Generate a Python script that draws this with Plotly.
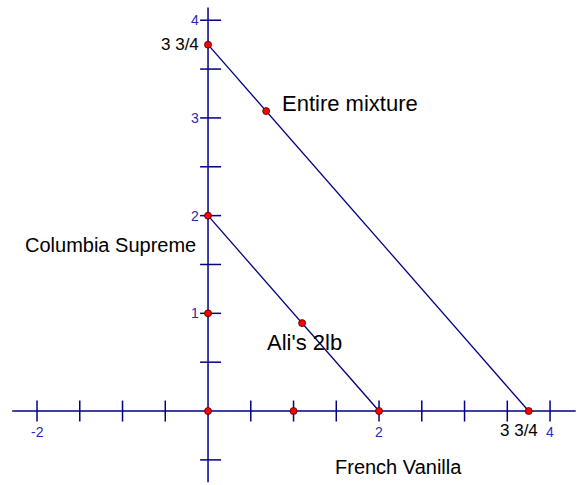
import plotly.graph_objects as go

# --- data ---
x_ticks = [-2, -1.5, -1, -0.5, 0.5, 1, 1.5, 2, 2.5, 3, 3.5, 4]
y_ticks = [-0.5, 0.5, 1, 1.5, 2, 2.5, 3, 3.5, 4]
x_tick_labels = {-2: "-2", 2: "2", 4: "4"}
y_tick_labels = {1: "1", 2: "2", 3: "3", 4: "4"}

entire_x = [0, 3.75]
entire_y = [3.75, 0]
alis_x = [0, 2]
alis_y = [2, 0]

pt_x = [0, 0, 0, 0, 1, 2, 3.75, 1.1, 0.68]
pt_y = [3.75, 2, 1, 0, 0, 0, 0, 0.9, 3.07]

AXIS = "#000080"
TICKTXT = "#2b2ba8"
FONT = "Liberation Sans, Arial, sans-serif"

fig = go.Figure()

# axes
fig.add_trace(go.Scatter(x=[-2.29, 4.3], y=[0, 0], mode="lines",
                         line=dict(color=AXIS, width=1.5), hoverinfo="skip"))
fig.add_trace(go.Scatter(x=[0, 0], y=[-0.73, 4.13], mode="lines",
                         line=dict(color=AXIS, width=1.5), hoverinfo="skip"))

# tick marks
fig.add_trace(go.Scatter(x=x_ticks, y=[0] * len(x_ticks), mode="markers",
                         marker=dict(symbol="line-ns", size=15,
                                     line=dict(color=AXIS, width=1.5)),
                         hoverinfo="skip"))
fig.add_trace(go.Scatter(x=[0.03] * len(y_ticks), y=y_ticks, mode="markers",
                         marker=dict(symbol="line-ew", size=15,
                                     line=dict(color=AXIS, width=1.5)),
                         hoverinfo="skip"))

# mixture lines
fig.add_trace(go.Scatter(x=entire_x, y=entire_y, mode="lines",
                         line=dict(color=AXIS, width=1.3), hoverinfo="skip"))
fig.add_trace(go.Scatter(x=alis_x, y=alis_y, mode="lines",
                         line=dict(color=AXIS, width=1.3), hoverinfo="skip"))

# points
fig.add_trace(go.Scatter(x=pt_x, y=pt_y, mode="markers",
                         marker=dict(color="red", size=7,
                                     line=dict(color="#400000", width=0.8))))

# tick labels
for v, t in x_tick_labels.items():
    fig.add_annotation(x=v, y=-0.215, text=t, showarrow=False,
                       font=dict(family=FONT, size=14, color=TICKTXT))
for v, t in y_tick_labels.items():
    fig.add_annotation(x=-0.08, y=v, text=t, showarrow=False, xanchor="right",
                       font=dict(family=FONT, size=14, color=TICKTXT))

# text labels
labels = [
    (-0.08, 3.75, "3 3/4", "right", 17),
    (3.64, -0.2, "3 3/4", "center", 17),
    (0.84, 3.15, "Entire mixture", "left", 22),
    (-0.12, 1.70, "Columbia Supreme", "right", 20),
    (0.667, 0.706, "Ali's 2lb", "left", 22),
    (1.46, -0.573, "French Vanilla", "left", 20),
]
for x, y, t, anc, s in labels:
    fig.add_annotation(x=x, y=y, text=t, showarrow=False, xanchor=anc,
                       font=dict(family=FONT, size=s, color="black"))

fig.update_layout(
    width=578, height=485,
    margin=dict(l=0, r=0, t=0, b=0),
    plot_bgcolor="white", paper_bgcolor="white",
    showlegend=False,
    xaxis=dict(range=[-2.433, 4.327], visible=False, fixedrange=True),
    yaxis=dict(range=[-0.757, 4.207], visible=False, fixedrange=True),
)

fig.write_html("out.html", config={"displayModeBar": False},
               post_script="document.body.style.margin='0px';")
